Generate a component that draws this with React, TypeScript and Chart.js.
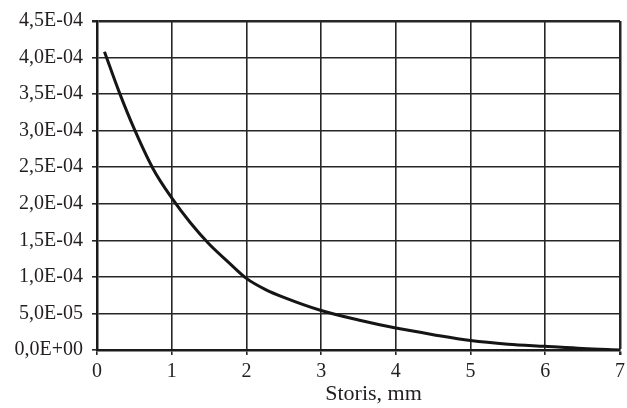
import React, { useEffect, useRef } from "react";
import { Chart, registerables } from "chart.js";

Chart.register(...registerables);

const xValues = [0.1, 0.3, 0.5, 0.75, 1, 1.25, 1.5, 1.75, 2, 2.25, 2.5, 3, 3.5, 4, 4.5, 5, 5.5, 6, 6.5, 7];
const yValues = [
  4.08e-4, 3.52e-4, 3.02e-4, 2.48e-4, 2.08e-4, 1.74e-4, 1.45e-4, 1.21e-4, 0.98e-4, 0.83e-4,
  0.72e-4, 0.54e-4, 0.41e-4, 0.30e-4, 0.21e-4, 0.13e-4, 0.08e-4, 0.05e-4, 0.02e-4, 0.0,
];
const X_MIN = 0;
const X_MAX = 7;
const Y_MIN = 0;
const Y_MAX = 4.5e-4;
const Y_STEP = 5e-5;
const X_TITLE = "Storis, mm";

const FONT = '"Liberation Serif", "Times New Roman", serif';
const INK = "#231f20";

function fmtSci(v: number): string {
  const s = v.toExponential(1);
  const [mant, exp] = s.split("e");
  const n = parseInt(exp, 10);
  const sign = n < 0 ? "-" : "+";
  const abs = Math.abs(n).toString().padStart(2, "0");
  return mant.replace(".", ",") + "E" + sign + abs;
}

const xTitlePlugin = {
  id: "xTitleOffset",
  afterDraw(chart: any) {
    const { ctx, chartArea } = chart;
    ctx.save();
    ctx.font = `22px ${FONT}`;
    ctx.fillStyle = INK;
    ctx.textAlign = "center";
    ctx.textBaseline = "alphabetic";
    ctx.fillText(X_TITLE, (chartArea.left + chartArea.right) / 2 + 15, 400);
    ctx.restore();
  },
};

export default function App() {
  const ref = useRef<HTMLCanvasElement | null>(null);

  useEffect(() => {
    document.body.style.margin = "0";
    if (!ref.current) return;
    const chart = new Chart(ref.current, {
      type: "line",
      data: {
        datasets: [
          {
            data: xValues.map((x, i) => ({ x, y: yValues[i] })),
            borderColor: "#151515",
            borderWidth: 3,
            pointRadius: 0,
            fill: false,
            cubicInterpolationMode: "monotone",
          },
        ],
      },
      options: {
        responsive: false,
        animation: false,
        events: [],
        layout: { padding: { top: 21, right: 7, left: 0, bottom: 0 } },
        plugins: { legend: { display: false }, tooltip: { enabled: false }, title: { display: false } },
        scales: {
          x: {
            type: "linear",
            min: X_MIN,
            max: X_MAX,
            afterFit: (s: any) => {
              s.height = 58;
              s.paddingLeft = 0;
              s.paddingRight = 0;
            },
            ticks: {
              stepSize: 1,
              color: INK,
              font: { family: FONT, size: 20 },
              padding: 5,
              maxRotation: 0,
            },
            grid: {
              color: "#262626",
              lineWidth: (c: any) => (c.tick && c.tick.value === X_MAX ? 2.5 : 1.6),
              tickLength: 5,
              drawTicks: true,
            },
            border: { display: true, color: "#1a1a1a", width: 2.5 },
          },
          y: {
            type: "linear",
            min: Y_MIN,
            max: Y_MAX,
            afterFit: (s: any) => {
              s.width = 97;
              s.paddingTop = 0;
              s.paddingBottom = 0;
            },
            ticks: {
              stepSize: Y_STEP,
              color: INK,
              font: { family: FONT, size: 20 },
              padding: 9,
              callback: (v: any) => fmtSci(Number(v)),
            },
            grid: {
              color: "#262626",
              lineWidth: (c: any) => (c.tick && Math.abs(c.tick.value - Y_MAX) < 1e-9 ? 2.5 : 1.6),
              tickLength: 5,
              drawTicks: true,
            },
            border: { display: true, color: "#1a1a1a", width: 2.5 },
          },
        },
      },
      plugins: [xTitlePlugin],
    });
    return () => chart.destroy();
  }, []);

  return (
    <div style={{ position: "absolute", left: 0, top: 0, width: 627, height: 408, background: "#fff" }}>
      <canvas ref={ref} width={627} height={408} style={{ width: 627, height: 408 }} />
    </div>
  );
}
